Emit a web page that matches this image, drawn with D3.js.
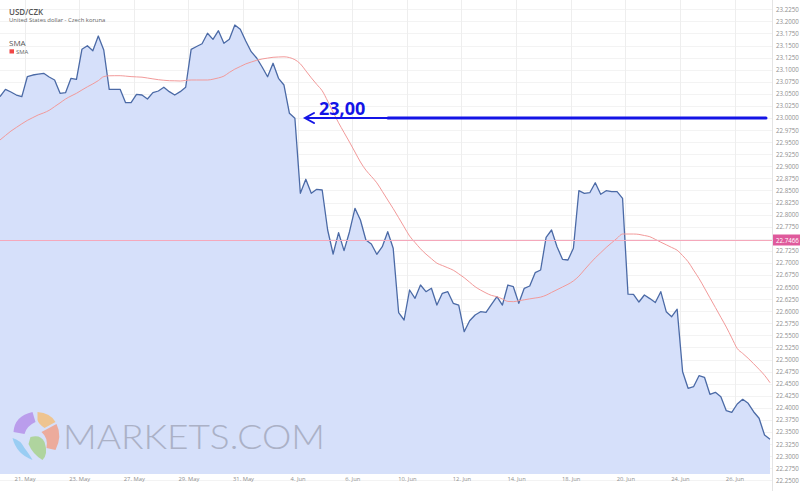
<!DOCTYPE html>
<html><head><meta charset="utf-8">
<script src="https://cdn.jsdelivr.net/npm/d3@7"></script>
<style>
html,body{margin:0;padding:0;background:#fff;}
svg{display:block;font-family:"Open Sans",sans-serif;}
</style></head>
<body>
<svg id="chart" width="800" height="491"></svg>
<script>
// ---------- DATA ----------
const title = "USD/CZK";
const subtitle = "United States dollar - Czech koruna";
const smaName = "SMA";
const xTickLabels = ["21. May","23. May","27. May","29. May","31. May","4. Jun","6. Jun","10. Jun","12. Jun","14. Jun","18. Jun","20. Jun","24. Jun","26. Jun"];
const xTickIndex = [4.5,14.5,24.5,34.5,44.5,54.5,64.5,74.5,84.5,94.5,104.5,114.5,124.5,134.5];
const price = [
23.0441,23.0594,23.0538,23.0476,23.0441,23.0855,23.0890,23.0907,23.0925,23.0849,
23.0787,23.0511,23.0524,23.0822,23.0801,23.1422,23.1497,23.1393,23.1698,23.1408,
23.0594,23.0594,23.0594,23.0317,23.0317,23.0491,23.0476,23.0393,23.0524,23.0559,
23.0636,23.0545,23.0476,23.0545,23.0636,23.1422,23.1480,23.1538,23.1754,23.1629,
23.1807,23.1547,23.1629,23.1925,23.1836,23.1594,23.1373,23.1242,23.1056,23.0855,
23.1133,23.0822,23.0683,23.0097,22.9994,22.8441,22.8731,22.8441,22.8524,22.8509,
22.7681,22.7184,22.7625,22.7253,22.7646,22.8130,22.7888,22.7474,22.7391,22.7178,
22.7335,22.7646,22.7302,22.5969,22.5818,22.6439,22.6267,22.6542,22.6404,22.6474,
22.6128,22.6371,22.6404,22.6164,22.6128,22.5576,22.5803,22.5921,22.5990,22.5977,
22.6139,22.6300,22.6128,22.6542,22.6507,22.6164,22.6474,22.6522,22.6797,22.6853,
22.7530,22.7681,22.7335,22.7075,22.7060,22.7302,22.8495,22.8441,22.8453,22.8660,
22.8420,22.8495,22.8474,22.8474,22.8337,22.6352,22.6350,22.6190,22.6335,22.6261,
22.6180,22.6404,22.5990,22.5886,22.6041,22.4747,22.4404,22.4437,22.4665,22.4631,
22.4280,22.4321,22.4230,22.3940,22.3907,22.4079,22.4176,22.4093,22.3919,22.3783,
22.3437,22.3348];
const sma = [
22.9545,22.9638,22.9729,22.9805,22.9880,22.9950,23.0008,23.0064,23.0106,23.0159,
23.0236,23.0313,23.0393,23.0455,23.0511,23.0580,23.0646,23.0706,23.0774,23.0857,
23.0874,23.0876,23.0876,23.0867,23.0857,23.0851,23.0845,23.0828,23.0810,23.0793,
23.0781,23.0772,23.0770,23.0766,23.0778,23.0787,23.0787,23.0787,23.0787,23.0803,
23.0830,23.0867,23.0944,23.1012,23.1066,23.1120,23.1159,23.1195,23.1222,23.1240,
23.1257,23.1263,23.1267,23.1251,23.1207,23.1122,23.0977,23.0832,23.0696,23.0563,
23.0350,23.0122,22.9901,22.9700,22.9501,22.9296,22.9089,22.8921,22.8791,22.8658,
22.8482,22.8302,22.8124,22.7936,22.7745,22.7557,22.7422,22.7292,22.7182,22.7087,
22.6994,22.6946,22.6899,22.6849,22.6774,22.6694,22.6600,22.6507,22.6437,22.6377,
22.6327,22.6300,22.6253,22.6203,22.6197,22.6217,22.6236,22.6255,22.6273,22.6292,
22.6331,22.6389,22.6445,22.6501,22.6557,22.6627,22.6725,22.6855,22.6983,22.7104,
22.7211,22.7319,22.7416,22.7511,22.7598,22.7598,22.7598,22.7590,22.7567,22.7542,
22.7487,22.7429,22.7375,22.7319,22.7263,22.7151,22.7025,22.6851,22.6677,22.6480,
22.6277,22.6077,22.5874,22.5671,22.5449,22.5228,22.5126,22.5025,22.4913,22.4797,
22.4673,22.4520];
const yTicks = d3.range(0, 40).map(k => +(22.25 + k * 0.025).toFixed(4));
const markerValue = 22.7466;
const annotationValue = 23.00;
const annotationText = "23,00";
const watermark = "MARKETS.COM";

// ---------- LAYOUT ----------
const W = 800, H = 491;
const plotRight = 772, plotBottom = 474;
const svg = d3.select("#chart");

const x = d3.scaleLinear().domain([0, price.length - 1]).range([0, 770]);
const pxPerUnit = 483;
const y = d3.scaleLinear().domain([23.225, 22.25])
  .range([118 - 0.225 * pxPerUnit, 118 + 0.75 * pxPerUnit]);

svg.append("defs").append("clipPath").attr("id", "plotclip")
  .append("rect").attr("x", 0).attr("y", 0).attr("width", plotRight).attr("height", plotBottom);

// grid
const grid = svg.append("g");
grid.selectAll("line.h").data(yTicks).join("line")
  .attr("x1", 0).attr("x2", plotRight)
  .attr("y1", d => Math.round(y(d)) + 0.5).attr("y2", d => Math.round(y(d)) + 0.5)
  .attr("stroke", "#f3f3f3").attr("stroke-width", 1);
grid.selectAll("line.v").data(xTickIndex).join("line")
  .attr("x1", d => Math.round(x(d)) + 0.5).attr("x2", d => Math.round(x(d)) + 0.5)
  .attr("y1", 0).attr("y2", plotBottom)
  .attr("stroke", "#eeeeee").attr("stroke-width", 1);

const plot = svg.append("g").attr("clip-path", "url(#plotclip)");

// area + line
plot.append("path").datum(price)
  .attr("d", d3.area().x((d, i) => x(i)).y0(plotBottom).y1(d => y(d)))
  .attr("fill", "#d6e0fa");

// watermark
const wm = plot.append("g").attr("opacity", 0.85);
const gx = 36.5, gy = 436, gr = 24;
const pieces = [
  {c: "#b692ea", d: `M${gx-23},${gy-4} Q${gx-22},${gy-20} ${gx-4},${gy-24} L${gx-1},${gy-14} Q${gx-10},${gy-10} ${gx-12},${gy-2} Z`},
  {c: "#f3c07e", d: `M${gx+1},${gy-24} Q${gx+14},${gy-23} ${gx+19},${gy-14} L${gx+8},${gy-8} Q${gx+2},${gy-12} ${gx+1},${gy-16} Z`},
  {c: "#f0a28c", d: `M${gx+20},${gy-12} Q${gx+26},${gy} ${gx+19},${gy+14} L${gx+10},${gy+12} Q${gx+12},${gy+2} ${gx+5},${gy-4} Z`},
  {c: "#a9d28f", d: `M${gx-6},${gy+1} Q${gx+4},${gy-2} ${gx+8},${gy+6} Q${gx+12},${gy+18} ${gx+6},${gy+24} Q${gx-4},${gy+18} ${gx-8},${gy+8} Z`},
  {c: "#8fcaf2", d: `M${gx-24},${gy+2} Q${gx-16},${gy+4} ${gx-12},${gy+12} Q${gx-6},${gy+20} ${gx-4},${gy+24} Q${gx-20},${gy+18} ${gx-24},${gy+2} Z`}
];
wm.selectAll("path").data(pieces).join("path").attr("d", d => d.d).attr("fill", d => d.c);
wm.append("text").attr("x", 63).attr("y", 448.5).text(watermark)
  .attr("font-family", "Lato, 'Open Sans', sans-serif").attr("font-weight", 300)
  .attr("font-size", 34).attr("textLength", 262).attr("lengthAdjust", "spacingAndGlyphs")
  .attr("fill", "#a4a9bd");

plot.append("path").datum(price)
  .attr("d", d3.line().x((d, i) => x(i)).y(d => y(d)))
  .attr("fill", "none").attr("stroke", "#4b6aa6").attr("stroke-width", 1.3)
  .attr("stroke-linejoin", "round");

// SMA
plot.append("path").datum(sma)
  .attr("d", d3.line().x((d, i) => x(i)).y(d => y(d)).curve(d3.curveMonotoneX))
  .attr("fill", "none").attr("stroke", "#f29a9a").attr("stroke-width", 1);

// marker horizontal line
const my = Math.round(y(markerValue)) + 0.5;
svg.append("line").attr("x1", 0).attr("x2", plotRight).attr("y1", my).attr("y2", my)
  .attr("stroke", "#f5a8bb").attr("stroke-width", 1);

// right axis
svg.append("line").attr("x1", plotRight + 0.5).attr("x2", plotRight + 0.5).attr("y1", 0).attr("y2", H)
  .attr("stroke", "#e4e4e4");
const yAxis = svg.append("g").attr("transform", `translate(${plotRight},0)`)
  .call(d3.axisRight(y).tickValues(yTicks).tickFormat(d3.format(".4f")).tickSize(0).tickPadding(4));
yAxis.select(".domain").remove();
yAxis.selectAll("text").attr("font-size", 6.2).attr("fill", "#8f8f8f")
  .attr("font-family", "'Open Sans', sans-serif");

// marker label
svg.append("rect").attr("x", plotRight + 1).attr("y", my - 6).attr("width", W - plotRight - 1).attr("height", 11)
  .attr("fill", "#df5a9c");
svg.append("text").attr("x", plotRight + 4).attr("y", my + 2.2).text(markerValue.toFixed(4))
  .attr("font-size", 6.2).attr("fill", "#ffffff");

// x axis
const xAxis = svg.append("g").attr("transform", `translate(0,${plotBottom})`)
  .call(d3.axisBottom(x).tickValues(xTickIndex).tickFormat((d, i) => xTickLabels[i]).tickSize(0).tickPadding(3));
xAxis.select(".domain").remove();
xAxis.selectAll("text").attr("font-size", 5.8).attr("fill", "#8f8f8f")
  .attr("font-family", "'Open Sans', sans-serif");

// annotation arrow
const ay = y(annotationValue);
const ann = svg.append("g").attr("stroke", "#1414e6").attr("fill", "none").attr("stroke-linecap", "round");
ann.append("line").attr("x1", 306).attr("x2", 388).attr("y1", ay).attr("y2", ay).attr("stroke-width", 2);
ann.append("line").attr("x1", 388).attr("x2", 766).attr("y1", ay).attr("y2", ay).attr("stroke-width", 3);
ann.append("path").attr("d", `M314,${ay-5} L305,${ay} L314,${ay+5}`).attr("stroke-width", 2);
svg.append("text").attr("x", 319).attr("y", ay - 3).text(annotationText)
  .attr("font-family", "'Open Sans', sans-serif").attr("font-weight", 700).attr("font-size", 18)
  .attr("fill", "#1414e6");

// legend / title
svg.append("text").attr("x", 9).attr("y", 14.5).text(title)
  .attr("font-size", 8).attr("font-weight", 600).attr("fill", "#555");
svg.append("text").attr("x", 9).attr("y", 22).text(subtitle)
  .attr("font-size", 5.9).attr("fill", "#666");
svg.append("text").attr("x", 9).attr("y", 45.5).text(smaName)
  .attr("font-size", 8).attr("fill", "#555");
svg.append("rect").attr("x", 9.5).attr("y", 49.3).attr("width", 4.5).attr("height", 4.2).attr("fill", "#f04646");
svg.append("text").attr("x", 16).attr("y", 53.5).text(smaName)
  .attr("font-size", 5.9).attr("fill", "#666");
</script>
</body></html>
